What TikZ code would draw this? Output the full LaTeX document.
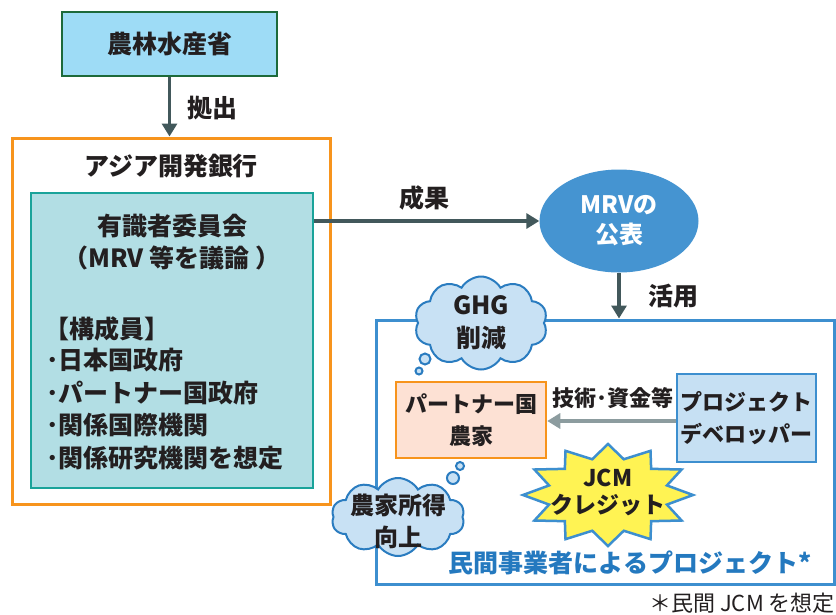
\documentclass[tikz,border=0pt]{standalone}
\usepackage{fontspec}
\setmainfont{Noto Sans CJK JP}
\usetikzlibrary{arrows.meta,shapes.symbols,shapes.geometric}
\definecolor{txt}{HTML}{231F20}
\definecolor{topfill}{HTML}{9EDCF6}
\definecolor{topdraw}{HTML}{1D6A3A}
\definecolor{arrdark}{HTML}{42585B}
\definecolor{arrlight}{HTML}{8C9C9F}
\definecolor{orng}{HTML}{F7941D}
\definecolor{tealdraw}{HTML}{1AA39A}
\definecolor{tealfill}{HTML}{B2DEE4}
\definecolor{mrvblue}{HTML}{4594D1}
\definecolor{projblue}{HTML}{3D8FCF}
\definecolor{devfill}{HTML}{C6E0F3}
\definecolor{partfill}{HTML}{FDE1D4}
\definecolor{burstfill}{HTML}{FFF353}
\definecolor{cloudfill}{HTML}{C8E1F4}
\definecolor{clouddraw}{HTML}{2A7CC0}
\definecolor{bluetxt}{HTML}{2479BF}
\tikzset{
  big/.style={font=\fontsize{25}{32}\selectfont\bfseries, text=txt},
  mid/.style={font=\fontsize{22}{32}\selectfont\bfseries, text=txt},
  txtnode/.style={inner sep=0pt, align=center},
  arrdk/.style={draw=arrdark, line width=3.5pt, -{Triangle[width=15pt,length=13pt]}},
  arrlt/.style={draw=arrlight, line width=3.5pt, -{Triangle[width=15pt,length=13pt]}},
  cloudbox/.style={cloud, cloud puffs=10, cloud puff arc=120, cloud ignores aspect, fill=cloudfill, draw=clouddraw, line width=2pt, inner sep=0pt},
  bubble/.style={fill=cloudfill, draw=clouddraw, line width=2pt},
  burst/.style={fill=burstfill, draw=projblue, line width=2.5pt, line join=miter}
}
\begin{document}
\begin{tikzpicture}[x=1pt,y=-1pt]
\useasboundingbox[fill=white] (0,0) rectangle (836,614);

% top ministry box
\node[big, draw=topdraw, fill=topfill, line width=2.5pt, minimum width=215, minimum height=64, inner sep=0pt] (maff) at (169.5,44) {農林水産省};

% ADB outer box
\node[draw=orng, line width=3pt, minimum width=318, minimum height=366, inner sep=0pt] (adb) at (171,321) {};
\node[big, txtnode] (adblabel) at (171,166) {アジア開発銀行};

% inner committee box
\node[draw=tealdraw, fill=tealfill, line width=2.5pt, minimum width=282, minimum height=295, inner sep=0pt] (comm) at (172,340.5) {};
\node[big, txtnode] (c1) at (172,226) {有識者委員会};
\node[big, txtnode] (c2) at (172,258) {（MRV 等を議論 ）};
\node[big, txtnode, anchor=west] (m0) at (44,329) {【構成員】};
\node[big, txtnode, anchor=west] (m1) at (46,360) {･日本国政府};
\node[big, txtnode, anchor=west] (m2) at (46,393) {･パートナー国政府};
\node[big, txtnode, anchor=west] (m3) at (46,425) {･関係国際機関};
\node[big, txtnode, anchor=west] (m4) at (46,458) {･関係研究機関を想定};

% arrow maff -> adb
\draw[arrdk] (maff.south) -- (adb.north -| maff.south);
\node[big, txtnode] (l1) at (212,108) {拠出};

% MRV ellipse
\node[ellipse, fill=mrvblue, minimum width=159, minimum height=103, inner sep=0pt, align=center, font=\fontsize{24}{30}\selectfont\bfseries, text=white] (mrv) at (619,221) {MRVの\\公表};

\draw[arrdk] (comm.east |- mrv.west) -- (mrv.west);
\node[big, txtnode] (l2) at (424,198) {成果};

% project box
\node[draw=projblue, line width=3pt, minimum width=458, minimum height=264, inner sep=0pt] (proj) at (605,452) {};
\draw[arrdk] (mrv.south) -- (proj.north -| mrv.south);
\node[big, txtnode] (l3) at (673,296) {活用};

% GHG cloud
\node[cloudbox, minimum width=133, minimum height=93] (ghg) at (481,323) {};
\node[big, txtnode, font=\fontsize{25}{33}\selectfont\bfseries] (ghgt) at (481,323) {GHG\\削減};
\draw[bubble] (425,359) circle (5.5);
\draw[bubble] (419,371) circle (3.5);

% partner farmer box
\node[mid, draw=orng, fill=partfill, line width=2.5pt, minimum width=150, minimum height=76, inner sep=0pt, align=center] (farm) at (471,420) {パートナー国\\農家};

% developer box
\node[mid, draw=projblue, fill=devfill, line width=2.5pt, minimum width=139, minimum height=88, inner sep=0pt, align=center] (dev) at (746.5,418) {プロジェクト\\デベロッパー};

\draw[arrlt] (dev.west |- 0,421) -- (farm.east |- 0,421);
\node[mid, txtnode] (l4) at (613,398) {技術･資金等};

% JCM starburst
\begin{scope}[shift={(608,495)}]
\draw[burst] (0:85 and 51)
  \foreach \a [evaluate=\a as \b using \a+15] in {15,45,...,345} { -- (\a:61 and 37) -- (\b:85 and 51)} -- cycle;
\end{scope}
\node[txtnode, font=\fontsize{23}{27}\selectfont\bfseries, text=txt] (jcm) at (608,492) {JCM\\クレジット};

% farmer income cloud
\node[cloudbox, minimum width=133, minimum height=78] (inc) at (398,517) {};
\node[big, txtnode, font=\fontsize{24}{32}\selectfont\bfseries] (inct) at (398,521) {農家所得\\向上};
\draw[bubble] (453,478) circle (6);
\draw[bubble] (460,466) circle (4);

% bottom texts
\node[txtnode, font=\fontsize{25}{30}\selectfont\bfseries, text=bluetxt] (projlabel) at (630,563) {民間事業者によるプロジェクト*};
\node[txtnode, anchor=east, font=\fontsize{22}{26}\selectfont, text=txt] (note) at (835,603) {＊民間 JCM を想定};
\end{tikzpicture}
\end{document}
